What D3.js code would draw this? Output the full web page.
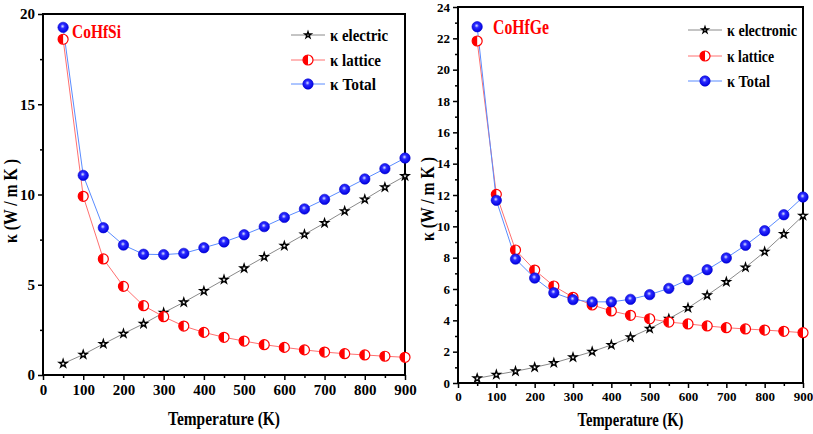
<!DOCTYPE html>
<html><head><meta charset="utf-8">
<script src="https://cdn.jsdelivr.net/npm/d3@7"></script>
<style>body{margin:0;background:#fff}svg{display:block}</style>
</head><body><svg id="c" width="813" height="434"></svg>
<script>
const temps = [50,100,150,200,250,300,350,400,450,500,550,600,650,700,750,800,850,900];
// CoHfSi
const siElectric = [0.63,1.13,1.72,2.29,2.84,3.45,4.03,4.65,5.28,5.91,6.54,7.16,7.79,8.42,9.08,9.73,10.4,11.02];
const siLattice  = [18.6,9.9,6.43,4.91,3.84,3.23,2.71,2.36,2.09,1.88,1.68,1.53,1.39,1.27,1.18,1.11,1.04,0.98];
const siTotal    = [19.26,11.06,8.16,7.2,6.69,6.67,6.74,7.05,7.37,7.77,8.22,8.73,9.2,9.73,10.29,10.86,11.43,12.02];
// CoHfGe
const geElectronic = [0.3,0.53,0.75,1.0,1.28,1.64,2.0,2.43,2.92,3.47,4.1,4.79,5.6,6.45,7.38,8.38,9.51,10.68];
const geLattice    = [21.83,12.04,8.49,7.21,6.19,5.47,4.98,4.6,4.32,4.1,3.89,3.77,3.64,3.53,3.45,3.38,3.3,3.21];
const geTotal      = [22.74,11.66,7.91,6.7,5.76,5.32,5.18,5.18,5.34,5.64,6.04,6.59,7.23,7.98,8.79,9.72,10.74,11.87];
const xTicks = [0,100,200,300,400,500,600,700,800,900];
const siYTicks = [0,5,10,15,20];
const geYTicks = [0,2,4,6,8,10,12,14,16,18,20,22,24];
const siLegend = ["κ electric","κ lattice","κ Total"];
const geLegend = ["κ electronic","κ lattice","κ Total"];

const FONT = "'Liberation Serif', 'DejaVu Serif', serif";
const svg = d3.select("#c").attr("font-family",FONT).attr("font-weight","bold");
const defs = svg.append("defs");
const grad = defs.append("radialGradient").attr("id","sph").attr("cx","45%").attr("cy","40%").attr("r","60%");
grad.append("stop").attr("offset","0%").attr("stop-color","#dde4ff");
grad.append("stop").attr("offset","35%").attr("stop-color","#2a2aff");
grad.append("stop").attr("offset","100%").attr("stop-color","#0000e0");

function star(g,x,y,small){
  g.append("path").attr("d",d3.symbol(d3.symbolStar,small?12:19)()).attr("transform",`translate(${x},${y})`)
   .attr("fill","#fff").attr("stroke","#000").attr("stroke-width",1.4);
}
function half(g,x,y){
  const r=5;
  g.append("circle").attr("cx",x).attr("cy",y).attr("r",r).attr("fill","#fff").attr("stroke","#f00").attr("stroke-width",1.2);
  g.append("path").attr("d",`M${x},${y-r}A${r},${r} 0 0 0 ${x},${y+r}Z`).attr("fill","#f00");
}
function sphere(g,x,y){
  g.append("circle").attr("cx",x).attr("cy",y).attr("r",5.2).attr("fill","url(#sph)").attr("stroke","#0000cc").attr("stroke-width",0.6);
}
function styleText(sel,size,len){
  sel.attr("font-size",size).attr("fill","#000").attr("font-family",FONT).attr("font-weight","bold");
  if(len) sel.attr("textLength",len).attr("lengthAdjust","spacingAndGlyphs");
  return sel;
}

function panel(o){
  const x = d3.scaleLinear().domain([0,900]).range([o.x0,o.x1]);
  const y = d3.scaleLinear().domain([0,o.ymax]).range([o.y0,o.y1]);
  const g = svg.append("g");
  g.append("g").attr("transform",`translate(0,${o.y0})`)
   .call(d3.axisBottom(x).tickValues(d3.range(50,900,100)).tickSize(3).tickFormat("").tickSizeOuter(0))
   .call(s=>s.select(".domain").remove()).selectAll("line").attr("stroke-width",1.5);
  g.append("g").attr("transform",`translate(${o.x0},0)`)
   .call(d3.axisLeft(y).tickValues(o.minor).tickSize(3).tickFormat("").tickSizeOuter(0))
   .call(s=>s.select(".domain").remove()).selectAll("line").attr("stroke-width",1.5);
  const xa = g.append("g").attr("transform",`translate(0,${o.y0})`)
   .call(d3.axisBottom(x).tickValues(xTicks).tickSize(5).tickPadding(4).tickSizeOuter(0));
  xa.attr("font-family",null).attr("font-size",null);
  xa.select(".domain").remove();
  xa.selectAll("line").attr("stroke-width",1.5);
  styleText(xa.selectAll("text"),o.tickFont);
  const ya = g.append("g").attr("transform",`translate(${o.x0},0)`)
   .call(d3.axisLeft(y).tickValues(o.yTicks).tickSize(5).tickPadding(3).tickSizeOuter(0));
  ya.attr("font-family",null).attr("font-size",null);
  ya.select(".domain").remove();
  ya.selectAll("line").attr("stroke-width",1.5);
  styleText(ya.selectAll("text"),o.tickFont);
  g.append("rect").attr("x",o.x0).attr("y",o.y1).attr("width",o.x1-o.x0).attr("height",o.y0-o.y1)
   .attr("fill","none").attr("stroke","#000").attr("stroke-width",2);
  const line = d3.line().x((d,i)=>x(temps[i])).y(d=>y(d));
  const series = [
    {v:o.e,c:"#8a8a8a",m:star},
    {v:o.l,c:"#ff7070",m:half},
    {v:o.t,c:"#5a8cff",m:sphere}];
  series.forEach(s=>g.append("path").attr("d",line(s.v)).attr("fill","none").attr("stroke",s.c).attr("stroke-width",1));
  series.forEach(s=>s.v.forEach((d,i)=>s.m(g,x(temps[i]),y(d))));
  series.forEach((s,i)=>{
    const ly = o.legY[i];
    g.append("line").attr("x1",o.legX).attr("x2",o.legX+34).attr("y1",ly).attr("y2",ly).attr("stroke",s.c).attr("stroke-width",1);
    s.m(g,o.legX+17,ly,true);
    styleText(g.append("text").attr("x",o.legX+39).attr("y",ly+5.5).text(o.legend[i]),o.legFont,o.legLen[i]);
  });
  styleText(g.append("text").attr("x",o.titleX).attr("y",o.titleY).text(o.title),o.titleFont,o.titleLen).attr("fill","#f00");
  styleText(g.append("text").attr("x",(o.x0+o.x1)/2).attr("y",o.xlabY).attr("text-anchor","middle").text("Temperature (K)"),18,o.xlabLen);
  styleText(g.append("text").attr("transform",`translate(${o.ylabX},${o.ylabC}) rotate(-90)`).attr("text-anchor","middle")
   .text("κ (W / m K )"),18,84);
}

panel({x0:43,x1:405,y0:375,y1:14,ymax:20,yTicks:siYTicks,minor:[2.5,7.5,12.5,17.5],
  e:siElectric,l:siLattice,t:siTotal,legend:siLegend,legX:291,legY:[35,60,84],legFont:17,legLen:[58,51,46],
  title:"CoHfSi",titleX:72,titleY:38,titleFont:19,titleLen:49,tickFont:15,xlabY:425,xlabLen:112,ylabX:17,ylabC:201});
panel({x0:458,x1:803,y0:383,y1:7,ymax:24,yTicks:geYTicks,minor:d3.range(1,24,2),
  e:geElectronic,l:geLattice,t:geTotal,legend:geLegend,legX:688,legY:[30,56,81],legFont:17,legLen:[70,47,43],
  title:"CoHfGe",titleX:493,titleY:34,titleFont:20,titleLen:56,tickFont:13,xlabY:426,xlabLen:106,ylabX:434,ylabC:199});
</script></body></html>
